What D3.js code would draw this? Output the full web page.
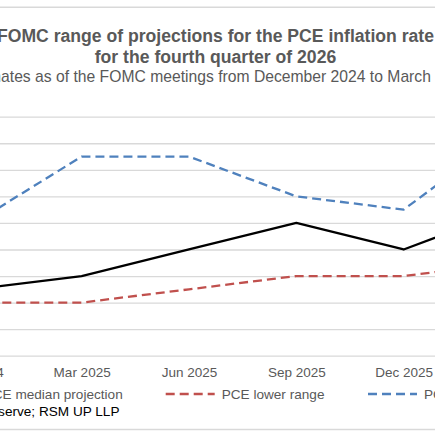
<!DOCTYPE html>
<html>
<head>
<meta charset="utf-8">
<script src="https://cdn.jsdelivr.net/npm/d3@7"></script>
<style>
  html, body { margin: 0; padding: 0; background: #fff; overflow: hidden; }
  svg { display: block; font-family: "Liberation Sans", Arial, sans-serif; }
  .xaxis text { font-size: 13.5px; fill: #595959; font-family: "Liberation Sans", Arial, sans-serif; }
</style>
</head>
<body>
<svg id="chart" width="435" height="435"></svg>
<script>
const categories = ["Dec 2024", "Mar 2025", "Jun 2025", "Sep 2025", "Dec 2025", "Mar 2026"];
const medianProj = [2.1, 2.2, 2.4, 2.6, 2.4, 2.7];
const lowerRange = [2.0, 2.0, 2.1, 2.2, 2.2, 2.3];
const upperRange = [2.6, 3.1, 3.1, 2.8, 2.7, 3.3];
const yTicks = [1.6, 1.8, 2.0, 2.2, 2.4, 2.6, 2.8, 3.0, 3.2, 3.4];
const titleLines = ["FOMC range of projections for the PCE inflation rate", "for the fourth quarter of 2026"];
const subtitle = "Estimates as of the FOMC meetings from December 2024 to March 2026";
const legendLabels = ["PCE median projection", "PCE lower range", "PCE upper range"];
const sourceText = "Source: Federal Reserve; RSM UP LLP";

const svg = d3.select("#chart");
const W = 435, H = 435;

// frame lines
svg.append("line").attr("x1", 0).attr("x2", W).attr("y1", 7.3).attr("y2", 7.3)
  .attr("stroke", "#d9d9d9").attr("stroke-width", 1.5);
svg.append("line").attr("x1", 0).attr("x2", W).attr("y1", 429.5).attr("y2", 429.5)
  .attr("stroke", "#d9d9d9").attr("stroke-width", 1.5);

// titles
const t = svg.append("text").attr("text-anchor", "middle").attr("fill", "#595959")
  .attr("font-weight", "bold").attr("font-size", 17.6);
t.append("tspan").attr("x", 215.5).attr("y", 41.7).text(titleLines[0]);
t.append("tspan").attr("x", 215.5).attr("y", 62.7).text(titleLines[1]);
svg.append("text").attr("x", 216).attr("y", 81.7).attr("text-anchor", "middle")
  .attr("fill", "#595959").attr("font-size", 15.7).text(subtitle);

// scales
const x = d3.scalePoint().domain(categories).range([-25.7, 511]);
const y = d3.scaleLinear().domain([1.6, 3.4]).range([355.7, 116.7]);

// gridlines
const grid = svg.append("g").attr("class", "grid")
  .attr("transform", "translate(-60,0)")
  .call(d3.axisLeft(y).tickValues(yTicks).tickSize(-(W + 120)).tickFormat(""));
grid.select(".domain").remove();
grid.selectAll(".tick line").attr("stroke", "#d9d9d9").attr("stroke-width", 1.3);

// x axis
const xa = svg.append("g").attr("class", "xaxis").attr("transform", `translate(0,${y(1.6)})`)
  .call(d3.axisBottom(x).tickSize(0).tickSizeOuter(0).tickPadding(11.4));
xa.attr("font-size", null).attr("font-family", null);
xa.select(".domain").remove();

// lines
const series = [
  { name: legendLabels[0], values: medianProj, color: "#000000", dash: null },
  { name: legendLabels[1], values: lowerRange, color: "#c0504d", dash: "9,5" },
  { name: legendLabels[2], values: upperRange, color: "#4f81bd", dash: "9,5" }
];
const line = d3.line().x((d, i) => x(categories[i])).y(d => y(d));
series.forEach(s => {
  svg.append("path").datum(s.values)
    .attr("fill", "none").attr("stroke", s.color).attr("stroke-width", 2.3)
    .attr("stroke-linejoin", "round")
    .attr("stroke-dasharray", s.dash)
    .attr("d", line);
});

// legend
const legY = 398.5;
const legend = [
  { s: series[0], textEnd: 122.7 },
  { s: series[1], textStart: 221.7 },
  { s: series[2], textStart: 424 }
];
legend.forEach(l => {
  const txt = svg.append("text").attr("y", legY).attr("font-size", 13.6).attr("fill", "#595959")
    .text(l.s.name);
  if (l.textEnd !== undefined) {
    txt.attr("x", l.textEnd).attr("text-anchor", "end");
  } else {
    txt.attr("x", l.textStart);
  }
  const bb = txt.node().getBBox();
  svg.append("line").attr("x1", bb.x - 56).attr("x2", bb.x - 7)
    .attr("y1", legY - 4.5).attr("y2", legY - 4.5)
    .attr("stroke", l.s.color).attr("stroke-width", 2.3)
    .attr("stroke-dasharray", l.s.dash);
});

// source
svg.append("text").attr("x", 119.5).attr("y", 416.3).attr("text-anchor", "end")
  .attr("font-size", 13.6).attr("fill", "#000").text(sourceText);
</script>
</body>
</html>
